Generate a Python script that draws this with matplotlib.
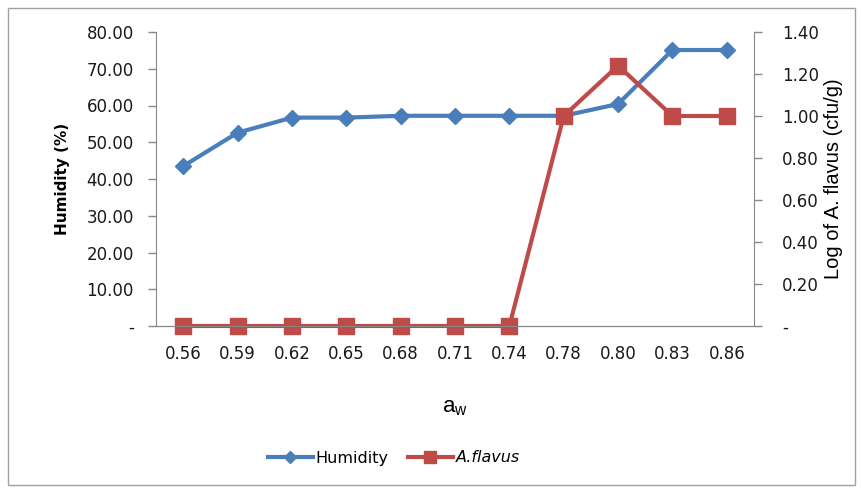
import matplotlib.pyplot as plt
from matplotlib.patches import Rectangle
from matplotlib.ticker import FuncFormatter

aw = ["0.56", "0.59", "0.62", "0.65", "0.68", "0.71", "0.74", "0.78", "0.80", "0.83", "0.86"]
humidity = [43.5, 52.6, 56.7, 56.7, 57.2, 57.2, 57.2, 57.2, 60.4, 75.1, 75.1]
aflavus = [0, 0, 0, 0, 0, 0, 0, 1.0, 1.24, 1.0, 1.0]

blue = '#4a7ebb'
red = '#be4b48'
grey = '#888888'

fig = plt.figure(figsize=(8.61, 4.88), dpi=100)
fig.patches.append(Rectangle((8 / 861, 3 / 488), 847 / 861, 477 / 488, transform=fig.transFigure,
                             fill=False, edgecolor='#a0a0a0', linewidth=1))

ax = fig.add_axes([156 / 861, 1 - 326 / 488, 598 / 861, 294 / 488])
ax2 = ax.twinx()

x = list(range(len(aw)))
l1, = ax.plot(x, humidity, color=blue, lw=3, marker='D', ms=8, label='Humidity')
l2, = ax2.plot(x, aflavus, color=red, lw=3, marker='s', ms=11, label='A.flavus', clip_on=False)

ax.set_xlim(-0.5, len(aw) - 0.5)
ax.set_ylim(0, 80)
ax2.set_ylim(0, 1.4)
ax.set_yticks([0, 10, 20, 30, 40, 50, 60, 70, 80])
ax2.set_yticks([0, 0.2, 0.4, 0.6, 0.8, 1.0, 1.2, 1.4])
ax.yaxis.set_major_formatter(FuncFormatter(lambda v, p: '-' if v == 0 else f'{v:.2f}'))
ax2.yaxis.set_major_formatter(FuncFormatter(lambda v, p: '-' if v == 0 else f'{v:.2f}'))
ax.set_xticks(x)
ax.set_xticklabels(aw)

for a in (ax, ax2):
    for s in a.spines.values():
        s.set_color(grey)
    a.spines['top'].set_visible(False)
    a.tick_params(colors=grey, labelcolor='#1a1a1a', labelsize=12, length=6, width=1)
ax2.spines['left'].set_visible(False)
ax.spines['right'].set_visible(False)
ax.tick_params(axis='x', length=0, pad=14)
ax.tick_params(axis='y', pad=10)
ax2.tick_params(axis='y', pad=14)

ax.set_ylabel('Humidity (%)', fontweight='bold', fontsize=11, labelpad=12)
ax2.set_ylabel('Log of A. flavus (cfu/g)', family='Liberation Sans', fontsize=14.5, labelpad=4)
ax.set_xlabel(r'a$_\mathregular{w}$', family='Liberation Sans', fontsize=16, labelpad=24)

leg = fig.legend([l1, l2], ['Humidity', 'A.flavus'], loc='center', bbox_to_anchor=(394 / 861, 1 - 458 / 488),
                 ncol=2, frameon=False, fontsize=11.5, handlelength=2.8, columnspacing=1.2, handletextpad=0.2,
                 markerscale=0.75)
leg.get_texts()[1].set_style('italic')

fig.savefig('out.png', dpi=100)
